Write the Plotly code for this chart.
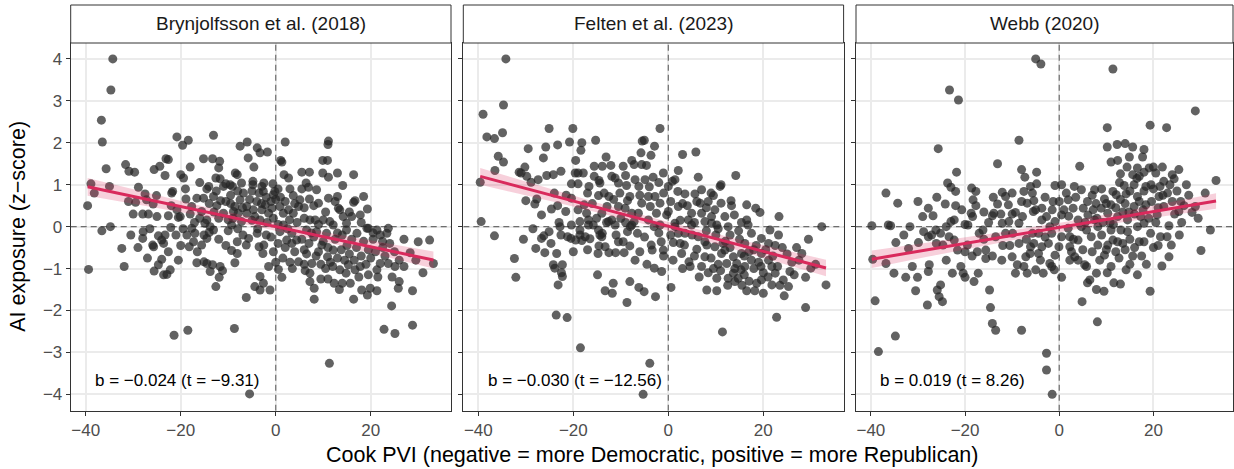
import numpy as np
import plotly.graph_objects as go

# ---------------- data ----------------
panel_titles = ["Brynjolfsson et al. (2018)", "Felten et al. (2023)", "Webb (2020)"]

# Cook PVI (x), AI exposure z-score (y) per district
bryn_pts = [
(-34.3,4.0),(-34.7,3.26),(-36.7,2.54),(-36.5,2.02),(-35.7,1.38),(-39.6,0.5),(-38.9,1.02),(-38.2,0.8),(-35.0,0.96),(-34.8,0.0),
(-31.6,1.48),(-30.9,1.32),(-29.7,1.3),(-28.9,0.94),(-29.5,0.58),(-30.0,0.3),(-27.5,0.78),(-27.2,0.64),(-26.8,0.3),(-25.8,0.54),
(-25.1,0.74),(-25.0,0.24),(-25.6,1.36),(-24.4,1.44),(-23.3,1.22),(-23.1,1.62),(-22.6,1.6),(-22.6,0.26),(-21.9,0.8),(-21.7,0.84),
(-20.8,2.14),(-19.6,1.94),(-18.4,2.06),(-20.0,1.24),(-19.4,1.16),(-18.0,1.42),(-18.9,0.66),(-20.8,0.4),(-20.1,0.24),(-20.5,0.22),
(-17.7,0.48),(-16.6,0.68),(-17.1,0.1),(-15.2,1.62),(-13.3,1.62),(-13.1,2.18),(-11.8,1.56),(-12.0,1.4),(-12.6,1.16),(-11.7,1.14),
(-14.5,0.9),(-14.1,0.96),(-13.1,0.72),(-15.2,0.68),(-15.6,0.36),(-14.5,0.16),(-14.9,0.08),(-13.8,0.0),(-12.4,0.5),(-11.6,0.62),
(-11.0,0.96),(-10.5,1.02),(-9.6,1.0),(-9.1,0.96),(-8.5,1.28),(-8.1,1.24),(-7.5,1.92),(-6.0,2.02),(-5.8,1.64),(-7.2,1.04),
(-6.8,0.8),(-7.5,0.64),(-8.6,0.48),(-8.9,0.36),(-7.9,0.32),(-6.1,0.32),(-7.2,0.12),(-6.1,0.48),(-11.0,0.32),(-10.0,0.16),(-9.3,0.04),
(-3.9,1.88),(-3.3,1.76),(-1.75,1.78),(-4.6,1.42),(-4.8,1.08),(-4.8,1.0),(-2.9,0.96),(-2.5,1.04),(-2.6,0.84),(-0.6,1.02),
(-0.2,0.84),(-0.5,0.76),(1.05,1.58),(1.3,1.54),(2.0,2.02),(1.75,1.24),(2.7,1.16),(3.7,0.74),(5.5,1.3),(7.1,1.3),
(6.4,1.04),(6.9,0.94),(8.6,0.88),(7.1,0.66),(5.1,0.64),(4.8,0.48),(9.0,0.56),(9.9,1.58),(10.9,1.58),(11.1,2.04),
(11.0,1.96),(9.9,1.28),(11.1,1.18),(13.0,1.28),(14.1,0.98),(16.4,1.24),(13.0,0.72),(11.1,0.68),(13.2,0.44),(13.5,0.4),
(16.4,0.58),(16.7,0.62),(18.5,0.72),(19.3,0.42),(17.8,0.28),(16.0,0.24),(14.2,0.24),(14.9,0.08),(11.4,0.12),(12.1,0.04),
(10.0,0.16),(8.3,0.16),(7.2,0.16),(3.7,0.32),(2.7,0.4),(1.6,0.32),(2.9,0.16),(0.9,0.48),(-0.8,0.44),(-2.2,0.52),
(-2.9,0.4),(-4.7,0.4),(-4.4,0.24),(-1.5,0.32),(-0.5,0.2),(-3.3,0.16),(19.2,-0.04),(21.3,-0.08),(23.7,-0.04),
(-39.4,-1.02),(-36.6,-0.1),(-32.4,-0.52),(-31.9,-0.95),(-30.5,-0.2),(-27.9,-0.12),(-28.0,-0.28),(-25.9,-0.44),(-25.7,-0.48),
(-24.7,-0.22),(-24.0,-0.32),(-23.3,-0.2),(-23.6,-0.4),(-22.6,-0.6),(-24.0,-0.78),(-24.7,-0.91),(-25.6,-1.06),(-23.6,-1.15),
(-22.9,-1.14),(-22.2,-1.03),(-21.0,-0.2),(-22.1,-0.02),(-18.7,-0.2),(-18.2,-0.48),(-17.3,-0.36),(-17.0,-0.16),(-17.7,-0.04),
(-15.6,-0.44),(-15.1,-0.2),(-14.5,-0.28),(-14.0,-0.14),(-13.1,-0.08),(-16.6,-0.86),(-15.1,-0.84),(-14.5,-0.88),(-13.3,-0.91),
(-13.8,-1.07),(-11.7,-0.95),(-11.2,-1.05),(-11.9,-1.21),(-12.6,-1.43),(-9.3,-0.57),(-8.1,-0.64),(-8.6,-0.86),(-8.1,-0.36),
(-6.2,-0.44),(-6.9,-0.2),(-5.7,-0.28),(-6.2,-1.69),(-21.4,-2.59),(-18.5,-2.47),(-8.7,-2.43),(-5.5,-3.99),
(-3.9,-0.16),(-3.5,-0.48),(-2.7,-0.64),(-2.0,-0.2),(-2.5,-0.44),(-1.5,-0.95),(-3.3,-1.19),(-2.6,-1.35),(-4.4,-1.43),(-3.3,-1.51),
(-1.2,-1.51),(0.56,-1.02),(1.3,-1.21),(2.3,-0.32),(3.4,-0.4),(4.4,-0.32),(4.8,-0.84),(6.2,-1.05),(7.2,-1.11),(7.6,-0.88),
(7.2,-1.31),(8.1,-1.47),(8.1,-1.73),(9.0,-0.6),(9.7,-0.44),(10.9,-0.72),(12.1,-0.56),(12.3,-1.35),(13.4,-1.5),(13.5,-1.03),
(14.8,-1.11),(15.3,-0.91),(15.7,-1.35),(16.4,-1.73),(16.7,-1.03),(18.1,-1.51),(19.3,-1.63),(19.9,-1.47),(21.3,-1.53),(19.5,-1.15),
(21.3,-1.03),(22.0,-0.88),(23.7,-0.88),(25.1,-0.95),(26.0,-1.31),(25.8,-1.47),(24.4,-1.89),(22.8,-2.45),(25.1,-2.55),(28.8,-2.35),
(28.8,-1.53),(11.3,-3.26),(30.0,-0.36),(32.4,-0.32),(33.2,-0.88),(28.3,-0.62),(23.4,-0.16),(22.0,-0.2),(19.5,-0.04),(17.1,-0.16),
(14.9,-0.08),(10.7,-0.16),(8.6,-0.12),(6.5,-0.08),(3.4,-0.16),(0.9,-0.12),(1.6,0.04),
(5.5,-0.3),(6.0,-0.55),(7.0,-0.4),(8.0,-0.25),(8.5,-0.7),(9.5,-0.9),(10.0,-0.35),(10.5,-1.0),(11.0,-0.5),(11.5,-0.85),
(12.5,-0.3),(13.0,-0.75),(13.8,-0.55),(14.0,-0.2),(14.5,-0.8),(15.0,-0.45),(15.5,-0.65),(16.0,-0.3),(16.5,-0.8),(17.0,-0.5),
(17.5,-1.2),(18.0,-0.7),(18.5,-0.35),(19.0,-0.9),(19.5,-0.55),(20.0,-0.75),(20.5,-0.3),(21.0,-0.6),(21.5,-1.2),(22.5,-0.5),
(23.0,-0.7),(24.0,-0.4),(25.0,-0.6),(26.0,-0.8),(27.0,-0.3),(9.0,0.05),(12.0,-0.95),(17.8,-0.95),(13.0,-0.15),(6.5,-0.65),
(4.0,-0.6),(3.0,-0.85),(2.0,-0.5),(0.5,-0.4),(-0.5,-0.6),(-1.0,-0.25),(0.0,-0.85),(1.5,-0.75),
(-10.5,0.6),(-9.5,0.75),(-9.0,0.2),(-8.0,0.85),(-5.5,0.65),(-5.0,0.85),(-4.0,0.6),(-3.5,0.8),(-3.0,0.55),(-2.0,0.7),
(-1.0,0.6),(0.0,0.65),(0.5,0.9),(1.0,0.7),(2.0,0.6),(3.0,0.9),(4.0,0.55),(5.5,0.9),(6.0,0.2),(8.0,0.5),
(-12.0,0.2),(-13.0,0.35),(-16.0,0.2),(-18.0,0.3),(-10.0,-0.1),(-12.0,-0.3),(-10.5,-0.45),(-20.0,-0.45),(-19.5,-0.05),
(-26.5,-0.05),(-29.0,-0.5),(-27.0,-0.75),
(-22.0,0.5),(-19.0,0.9),(-16.0,1.05),(-14.0,0.55),(-12.5,0.85),(-9.5,0.55),(-7.0,0.45),(-5.0,0.15),(-3.8,-0.05),(-1.8,0.1),
(0.5,0.05),(2.5,-0.05),(4.5,0.1),(6.0,0.45),(7.5,-0.15),(10.5,0.35),(12.5,0.6),(15.5,0.35),(18.0,0.1),(20.5,-0.15),
(22.5,-0.35),(24.5,-1.2),(27.0,-0.95),(29.5,-0.8),(31.0,-1.1),(9.5,-1.25),(11.0,-1.25),(14.0,-1.35),(6.0,-0.9),(3.5,-1.0),
(-8.0,-0.05),(-16.5,-0.6),(-20.5,-0.8),(-28.0,0.3),(-31.0,0.6),
]

felten_pts = [
(-34.2,4.0),(-34.7,2.9),(-39.0,2.68),(-38.2,2.14),(-36.6,2.1),(-34.9,2.24),(-35.8,1.68),(-34.7,1.54),(-36.5,1.34),(-39.6,1.06),
(-39.4,0.12),(-29.5,1.86),(-31.4,1.3),(-31.0,1.28),(-30.2,1.42),(-29.8,1.2),(-28.9,1.06),(-27.4,1.12),(-27.7,0.66),(-28.1,0.54),
(-30.0,0.62),(-26.7,0.28),(-26.3,1.64),(-25.8,1.9),(-25.1,2.34),(-25.6,1.22),(-24.2,1.24),(-23.3,1.95),(-22.6,1.32),(-24.6,0.42),
(-23.3,0.5),(-21.6,0.36),(-23.0,0.1),(-20.8,2.02),(-20.1,2.34),(-18.2,2.0),(-18.4,1.82),(-19.5,1.58),(-19.6,1.28),(-20.4,1.02),
(-19.0,1.02),(-19.0,1.28),(-17.9,1.28),(-16.7,0.96),(-20.4,0.68),(-17.7,0.52),(-17.2,0.32),(-16.8,0.16),(-18.6,0.12),(-20.4,0.04),
(-15.3,2.06),(-15.6,1.44),(-13.9,1.44),(-13.1,1.66),(-12.1,1.46),(-15.6,1.2),(-14.6,1.1),(-14.4,1.04),(-14.7,0.74),(-12.5,0.72),
(-11.9,1.2),(-11.2,1.16),(-10.5,1.04),(-9.5,1.44),(-9.0,1.22),(-7.7,1.58),(-7.2,1.48),(-5.6,1.48),(-5.5,2.04),(-7.0,1.12),
(-8.8,0.98),(-8.1,0.72),(-8.6,0.62),(-10.2,0.8),(-10.5,0.48),(-9.1,0.44),(-7.7,0.32),(-6.3,0.32),(-7.2,0.12),(-11.9,0.16),
(-12.9,0.48),(-14.0,0.32),(-15.1,0.2),(-15.8,0.04),
(-1.75,2.34),(-5.05,2.06),(-2.9,1.92),(-5.75,1.76),(-3.65,1.7),(-4.6,1.46),(3.0,1.72),(5.8,1.78),(2.1,1.34),(-1.05,1.28),
(-3.2,1.18),(-4.9,1.12),(-6.2,0.96),(0.85,1.08),(1.4,1.12),(0.0,0.96),(6.3,1.18),(10.9,0.96),(11.1,1.0),(14.2,1.22),
(7.0,0.88),(5.6,0.78),(3.5,0.78),(2.0,0.84),(9.5,0.74),(9.0,0.8),(8.4,0.6),(6.7,0.56),(11.1,0.56),(13.2,0.62),
(13.3,0.5),(16.5,0.52),(18.4,0.44),(19.3,0.34),(23.3,0.24),(32.3,0.0),(21.4,-0.08),(15.4,0.1),(16.5,0.16),(13.9,0.28),
(11.9,0.24),(9.8,0.4),(9.1,0.24),(7.0,0.32),(4.9,0.32),(4.2,0.16),(2.1,0.48),(0.0,0.36),(-1.75,0.56),(-2.8,0.72),
(-4.2,0.72),(-5.6,0.56),(-3.8,0.48),(-2.5,0.32),(-0.35,0.28),(-4.2,0.16),(-1.75,0.04),(1.4,0.08),(7.7,0.12),(10.2,0.04),(12.6,0.0),
(-36.6,-0.22),(-32.4,-0.76),(-32.1,-1.21),(-27.9,-0.52),(-26.0,-0.62),(-26.7,-0.28),(-26.2,-0.22),(-24.7,-0.4),(-25.1,-0.12),
(-23.5,-0.64),(-24.2,-0.91),(-23.9,-0.99),(-22.3,-0.91),(-22.5,-1.1),(-22.3,-1.19),(-23.2,-1.39),(-23.6,-2.11),(-21.3,-2.17),
(-22.8,0.0),(-22.6,-0.2),(-21.2,-0.24),(-20.5,-0.28),(-19.5,-0.32),(-18.6,-0.2),(-18.2,-0.33),(-17.5,-0.24),(-16.5,-0.29),
(-18.6,-0.08),(-16.8,0.04),(-14.7,-0.08),(-14.4,-0.2),(-14.0,-0.24),(-13.9,-0.16),(-14.6,-0.46),(-14.8,-0.64),(-13.3,-0.48),
(-12.5,-0.62),(-11.1,-0.62),(-10.5,-0.36),(-9.5,-0.36),(-9.3,-0.62),(-8.6,-0.12),(-8.1,-0.46),(-6.0,-0.6),(-6.5,-0.16),
(-7.7,0.04),(-11.2,0.04),(-12.6,0.12),(-14.9,-1.15),(-13.3,-1.53),(-11.8,-1.59),(-11.6,-1.35),(-8.7,-1.81),(-8.1,-1.31),
(-6.2,-1.45),(-5.1,-1.55),(-18.5,-2.89),(-5.3,-4.0),
(-2.7,-1.67),(-2.95,-0.99),(-1.4,-1.07),(-3.4,-0.56),(-3.6,-0.44),(-1.5,-0.36),(-1.05,-0.56),(0.56,-1.45),(-3.9,-3.26),
(1.05,-0.38),(2.8,-0.64),(3.4,-0.44),(4.35,-0.84),(4.6,-0.95),(6.0,-0.54),(7.7,-0.72),(8.1,-0.44),(8.4,-1.1),(10.2,-1.23),
(8.1,-1.51),(10.2,-1.53),(11.4,-2.51),(11.9,-0.56),(12.3,-0.88),(12.6,-1.23),(14.0,-1.31),(13.7,-1.11),(14.7,-1.23),(15.3,-1.03),
(16.5,-1.53),(18.2,-1.53),(18.6,-1.35),(19.6,-1.27),(20.0,-1.59),(21.8,-1.39),(22.5,-1.11),(24.2,-1.27),(24.4,-1.65),(25.3,-1.43),
(25.6,-1.07),(22.8,-2.16),(28.9,-1.93),(28.9,-1.21),(28.1,-0.64),(30.0,-0.99),(33.2,-1.39),(23.2,-0.2),(21.1,-0.4),(19.6,-0.28),
(17.5,-0.16),(16.1,-0.4),(15.4,-0.64),(13.7,-0.72),(11.2,-0.64),(9.8,-0.48),(7.7,-0.36),(6.3,-0.24),(3.5,-0.16),(2.1,-0.16),
(1.4,0.0),(4.9,0.04),(9.1,0.08),(16.8,0.04),(19.6,-0.64),(21.1,-0.8),(21.8,-0.95),(17.5,-0.8),(16.1,-0.95),(14.4,-0.88),
(5.5,-0.7),(7.0,-0.95),(9.0,-0.75),(10.5,-0.9),(11.0,-1.05),(12.0,-0.35),(13.0,-0.5),(14.0,-1.0),(15.0,-0.3),(16.0,-1.15),
(17.0,-0.6),(18.0,-1.0),(18.5,-0.45),(19.0,-0.85),(20.0,-1.1),(20.5,-0.55),(22.0,-0.7),(23.0,-0.95),(24.0,-0.5),(26.0,-0.85),
(27.0,-0.5),(12.5,-1.4),(15.5,-1.4),(17.0,-1.3),(10.0,-0.2),(8.0,-0.1),(-1.0,0.8),(-3.0,0.0),(-8.0,0.0),(-10.0,0.2),
(-11.5,0.65),(-13.5,0.8),(-16.0,0.55),(-5.0,-0.25),(-2.0,-0.15),(0.5,-0.2),(2.5,-0.4),(5.0,-0.2),(3.0,0.55),(6.0,0.6),
(-20.0,-0.6),(-17.0,-0.55),(-28.5,-0.05),(-30.5,-0.3),
(-24.0,0.8),(-21.5,0.75),(-19.0,0.4),(-17.0,0.8),(-13.0,0.1),(-11.0,-0.2),(-9.0,0.1),(-6.0,0.75),(-4.0,0.95),(-2.0,1.05),
(0.5,0.6),(2.5,0.15),(4.0,0.5),(5.5,0.1),(8.0,0.45),(10.5,-0.05),(11.5,-0.4),(13.0,-0.2),(14.8,-0.1),(16.0,-0.7),
(18.0,-0.55),(19.5,-0.95),(21.0,-1.2),(22.5,-0.45),(23.5,-1.4),(25.0,-0.65),(26.5,-1.15),(27.5,-0.8),(29.5,-0.3),(31.0,-0.9),
(9.5,-1.0),(6.5,-1.2),(3.0,-1.0),(1.0,-0.8),(-1.0,-0.7),(-4.5,-0.9),(-7.0,-0.8),
]

webb_pts = [
(-5.0,4.0),(-23.3,3.26),(-21.4,3.02),(-25.7,1.86),(-8.55,2.06),(-13.1,1.5),(-21.8,1.3),(-8.0,1.36),(-7.3,1.18),(-4.8,1.3),
(-23.7,1.04),(-23.0,0.94),(-22.0,0.84),(-36.8,0.8),(-34.3,0.56),(-27.8,0.44),(-29.0,0.24),(-26.8,0.26),(-24.2,0.54),(-20.7,0.4),
(-18.6,0.92),(-17.7,0.84),(-18.3,0.64),(-17.7,0.5),(-18.4,0.24),(-18.7,0.32),(-19.4,0.04),(-23.0,0.12),(-22.3,0.16),(-12.1,0.82),
(-11.4,0.72),(-13.1,0.54),(-10.8,0.52),(-12.4,0.3),(-14.2,0.26),(-13.9,0.32),(-9.3,0.34),(-7.8,0.24),(-8.55,0.08),(-10.7,0.12),
(-12.1,0.08),(-7.5,0.84),(-6.1,0.96),(-5.7,0.8),(-6.8,0.56),(-5.0,0.4),(-5.4,0.62),(-39.8,0.02),(-36.3,0.04),(-35.8,0.02),
(-31.7,0.0),(-26.2,-0.08),(-24.0,0.0),(-16.2,-0.08),
(-3.9,3.88),(11.4,3.76),(28.9,2.76),(10.2,2.36),(19.3,2.42),(22.8,2.36),(10.2,1.9),(12.3,1.96),(14.0,1.98),(15.6,1.9),
(18.0,1.84),(17.7,1.66),(14.9,1.66),(11.0,1.54),(12.4,1.58),(4.35,1.44),(14.4,1.42),(16.6,1.4),(19.1,1.4),(20.0,1.42),
(21.9,1.42),(25.4,1.36),(24.0,1.24),(24.4,1.14),(20.5,1.28),(13.0,1.26),(15.6,1.24),(17.0,1.2),(18.0,1.3),(-4.8,1.02),
(-0.9,0.98),(0.5,1.0),(3.2,0.96),(4.7,0.88),(7.5,0.88),(11.4,0.84),(13.8,0.98),(15.9,1.0),(18.4,0.96),(21.4,0.96),
(22.2,1.08),(21.2,0.72),(19.6,0.6),(33.3,1.1),(-3.7,0.44),(-1.3,0.6),(1.5,0.8),(1.9,0.64),(2.95,0.44),(5.1,0.44),
(7.2,0.4),(8.9,0.44),(9.6,0.66),(11.0,0.52),(12.1,0.76),(14.2,0.78),(16.6,0.72),(15.9,0.48),(18.4,0.52),(22.2,0.48),
(24.0,0.6),(25.8,0.6),(25.4,0.36),(28.2,0.34),(28.9,0.48),(20.8,0.28),(17.3,0.24),(14.5,0.16),(12.4,0.24),(10.3,0.32),
(7.5,0.16),(6.1,0.28),(4.0,0.16),(0.5,0.28),(-0.9,0.12),(-2.7,0.24),(-3.7,0.16),(-5.5,0.36),(23.3,0.02),(32.1,-0.08),
(-39.6,-0.78),(-36.8,-0.88),(-39.1,-1.77),(-34.8,-2.61),(-38.4,-2.98),(-34.7,-0.38),(-35.1,-1.11),(-32.0,-0.52),(-32.6,-1.21),
(-31.2,-0.95),(-30.1,-1.21),(-30.5,-1.53),(-29.9,-0.38),(-27.8,-0.24),(-28.0,-1.87),(-27.6,-0.91),(-27.8,-1.07),(-26.1,-0.4),
(-25.9,-1.51),(-25.2,-1.39),(-25.5,-1.67),(-24.8,-1.79),(-24.7,-0.44),(-22.7,-1.11),(-20.9,-0.95),(-20.4,-1.11),(-20.0,-1.21),
(-20.0,-0.6),(-21.6,-0.56),(-22.3,-0.32),(-23.4,-0.24),(-25.2,-0.16),(-27.1,-0.2),(-28.8,-0.12),(-19.5,-0.44),(-18.1,-1.31),
(-17.2,-1.11),(-17.4,-0.6),(-15.6,-0.76),(-15.6,-0.56),(-17.0,-0.16),(-14.2,-0.7),(-14.8,-1.51),(-14.6,-1.93),(-14.2,-2.31),
(-13.5,-2.47),(-8.0,-2.47),(-12.2,-0.8),(-10.0,-0.72),(-8.9,-0.91),(-7.5,-0.95),(-7.1,-0.72),(-6.1,-0.48),(-5.0,-1.03),
(-6.8,-1.11),(-9.3,-1.11),(-13.5,-0.24),(-11.4,-0.16),(-8.55,-0.4),(-9.9,-0.16),(-5.7,-0.16),(-4.4,-0.64),
(-5.4,-0.4),(-6.2,-0.64),(-3.4,-1.11),(-1.6,-0.95),(-1.05,-1.03),(-2.0,-0.88),(-0.9,-0.68),(-0.07,-0.48),(0.5,-1.21),(0.5,-0.24),
(-2.7,-3.02),(-2.7,-3.42),(-1.5,-4.0),(2.25,-0.48),(2.6,-0.6),(3.3,-0.72),(4.0,-0.8),(2.25,-0.8),(5.4,-0.91),(5.8,-0.95),
(6.5,-1.27),(6.0,-1.34),(4.85,-1.79),(8.1,-2.27),(7.9,-1.5),(9.5,-1.54),(7.9,-1.11),(8.6,-0.8),(9.6,-0.68),(10.2,-1.1),
(11.0,-0.95),(11.6,-1.34),(13.0,-1.37),(14.2,-1.03),(16.6,-1.15),(15.6,-0.7),(19.3,-1.54),(21.8,-0.94),(23.3,-0.72),(23.8,-0.44),
(22.9,-0.24),(21.5,-0.24),(30.1,-0.57),(19.4,-0.16),(18.0,-0.36),(17.0,-0.36),(13.5,-0.4),(12.4,-0.36),(11.4,-0.32),(10.3,-0.44),
(8.2,-0.44),(6.8,-0.24),(5.8,-0.08),(4.0,-0.32),(2.25,-0.24),(1.9,-0.04),(4.7,0.0),(8.2,0.0),(11.0,-0.08),(13.1,-0.08),
(14.5,-0.12),(16.6,0.0),(18.0,0.08),(-3.7,-0.48),(-2.3,-0.4),(-1.6,-0.16),(-4.4,-0.16),
(6.0,0.6),(7.0,0.75),(8.0,0.2),(9.0,0.9),(10.0,0.55),(10.8,0.1),(12.0,0.45),(13.0,0.65),(13.5,0.35),(14.0,0.55),
(15.0,0.85),(16.0,0.3),(17.0,0.6),(18.0,0.85),(19.0,0.2),(20.0,0.9),(21.0,0.45),(23.0,0.8),(24.5,0.3),(26.5,0.5),
(27.5,0.75),(9.0,-0.2),(12.0,-0.6),(14.0,-0.55),(15.0,-0.3),(16.0,-0.5),(17.5,-0.7),(7.0,-0.6),(5.0,-0.55),(3.0,-0.3),
(20.0,-0.5),(1.0,0.4),(-1.5,0.4),(-3.0,0.7),(-8.0,0.6),(-10.0,0.3),(-15.0,0.1),(-16.0,-0.3),(-10.5,-0.45),(-3.0,-0.25),
(-30.0,0.6),(-26.0,0.7),(-22.0,0.5),(-20.0,0.05),(-16.0,0.35),(-14.0,0.7),(-10.0,0.8),(-7.0,-0.3),(-4.0,-0.8),(-2.0,0.0),
(0.0,0.6),(2.0,0.25),(3.5,0.7),(5.5,0.1),(7.8,0.55),(9.3,0.1),(11.5,0.05),(12.8,1.05),(14.8,0.35),(16.5,1.15),
(17.8,0.4),(19.5,1.0),(20.5,0.1),(22.0,0.75),(23.5,1.0),(25.0,0.85),(26.0,0.1),(27.0,1.0),(29.5,0.2),(31.0,0.8),
(10.0,-0.55),(12.7,-0.75),(15.0,-0.9),(18.5,-0.9),(21.0,-0.45),(25.5,-0.2),(-12.0,-0.45),(-18.5,-0.7),(-24.0,-0.8),(-33.0,-0.2),
]

# fitted slope b, intercept a and t statistic per panel
fit_b = [-0.024, -0.030, 0.019]
fit_a = [0.0, 0.01, -0.02]
fit_t = [-9.31, -12.56, 8.26]

x_ticks = [-40, -20, 0, 20]
y_ticks = [-4, -3, -2, -1, 0, 1, 2, 3, 4]

# ---------------- layout constants ----------------
W, H = 1234, 469
FONT = "Liberation Sans, Arial, Helvetica, sans-serif"
panels_px = [(70.7, 451.0), (463.3, 843.6), (856.0, 1233.0)]
panel_top_px, panel_bot_px = 43.0, 410.7
strip_top_px = 5.0
XR = [-43.16, 36.9]
YR = [-4.39, 4.38]

def fmt(v, d):
    return f"{v:.{d}f}".replace("-", "\u2212")

fig = go.Figure()
shapes = []
annotations = []
all_pts = [bryn_pts, felten_pts, webb_pts]
dash_style = dict(color="#6E6E6E", width=1.2, dash="6px,4px")

for i, pts in enumerate(all_pts):
    k = "" if i == 0 else str(i + 1)
    xa, ya = "x" + k, "y" + k

    # dashed zero reference lines (above the grid, below the points)
    fig.add_trace(go.Scatter(x=[0, 0], y=YR, mode="lines", line=dash_style,
                             xaxis=xa, yaxis=ya, showlegend=False, hoverinfo="skip"))
    fig.add_trace(go.Scatter(x=XR, y=[0, 0], mode="lines", line=dash_style,
                             xaxis=xa, yaxis=ya, showlegend=False, hoverinfo="skip"))

    xs = np.array([p[0] for p in pts])
    ys = np.array([p[1] for p in pts])
    fig.add_trace(go.Scatter(
        x=xs, y=ys, mode="markers", xaxis=xa, yaxis=ya,
        marker=dict(size=9, color="rgba(38,38,38,0.72)", line=dict(width=0)),
        showlegend=False, hoverinfo="skip"))

    # regression line with confidence band
    b, a, t = fit_b[i], fit_a[i], fit_t[i]
    se_b = abs(b / t)
    resid = ys - (a + b * xs)
    s = np.std(resid, ddof=2)
    n = len(xs)
    xbar = xs.mean()
    gx = np.linspace(xs.min(), xs.max(), 80)
    gy = a + b * gx
    half = 1.96 * np.sqrt(s ** 2 / n + se_b ** 2 * (gx - xbar) ** 2)
    fig.add_trace(go.Scatter(
        x=np.concatenate([gx, gx[::-1]]),
        y=np.concatenate([gy + half, (gy - half)[::-1]]),
        fill="toself", fillcolor="rgba(220,40,90,0.22)", line=dict(width=0),
        mode="lines", xaxis=xa, yaxis=ya, showlegend=False, hoverinfo="skip"))
    fig.add_trace(go.Scatter(
        x=gx, y=gy, mode="lines", line=dict(color="#D92A5C", width=3),
        xaxis=xa, yaxis=ya, showlegend=False, hoverinfo="skip"))

    x0, x1 = panels_px[i]
    dom_x = [x0 / W, x1 / W]
    dom_y = [(H - panel_bot_px) / H, (H - panel_top_px) / H]
    common = dict(showgrid=True, gridcolor="#EBEBEB", gridwidth=1.5, zeroline=False,
                  showline=True, mirror=True, linecolor="#333333", linewidth=1,
                  ticks="outside", ticklen=4, tickcolor="#333333", tickwidth=1,
                  tickfont=dict(family=FONT, size=17, color="#4D4D4D"))
    fig.update_layout(**{
        "xaxis" + k: dict(domain=dom_x, range=XR, tickvals=x_ticks,
                          ticktext=[fmt(v, 0) for v in x_ticks],
                          anchor=ya, **common),
        "yaxis" + k: dict(domain=dom_y, range=YR, tickvals=y_ticks,
                          ticktext=[fmt(v, 0) for v in y_ticks],
                          showticklabels=(i == 0), anchor=xa, **common),
    })

    # facet strip
    shapes.append(dict(type="rect", xref="paper", yref="paper",
                       x0=x0 / W, x1=x1 / W,
                       y0=(H - panel_top_px) / H, y1=(H - strip_top_px) / H,
                       fillcolor="white", line=dict(color="#333333", width=1)))
    annotations.append(dict(text=panel_titles[i], xref="paper", yref="paper",
                            x=(x0 + x1) / 2 / W, y=(H - (panel_top_px + strip_top_px) / 2) / H,
                            showarrow=False, font=dict(family=FONT, size=19, color="#1A1A1A"),
                            xanchor="center", yanchor="middle"))

    # coefficient label
    annotations.append(dict(text=f"b = {fmt(b, 3)} (t = {fmt(t, 2)})", xref=xa, yref=ya,
                            x=-38.4, y=-3.68, showarrow=False, xanchor="left", yanchor="middle",
                            font=dict(family=FONT, size=17, color="black")))

annotations.append(dict(text="Cook PVI (negative = more Democratic, positive = more Republican)",
                        xref="paper", yref="paper", x=(70.7 + 1233) / 2 / W, y=(H - 455) / H,
                        showarrow=False, xanchor="center", yanchor="middle",
                        font=dict(family=FONT, size=21.5, color="black")))
annotations.append(dict(text="AI exposure (z\u2212score)", xref="paper", yref="paper",
                        x=18 / W, y=(H - (panel_top_px + panel_bot_px) / 2) / H, textangle=-90,
                        showarrow=False, xanchor="center", yanchor="middle",
                        font=dict(family=FONT, size=21.5, color="black")))

fig.update_layout(width=W, height=H, margin=dict(l=0, r=0, t=0, b=0),
                  paper_bgcolor="white", plot_bgcolor="white",
                  shapes=shapes, annotations=annotations, showlegend=False)

fig.write_html("out.html", config={"displayModeBar": False},
               post_script="document.body.style.margin='0';document.body.style.overflow='hidden';")
